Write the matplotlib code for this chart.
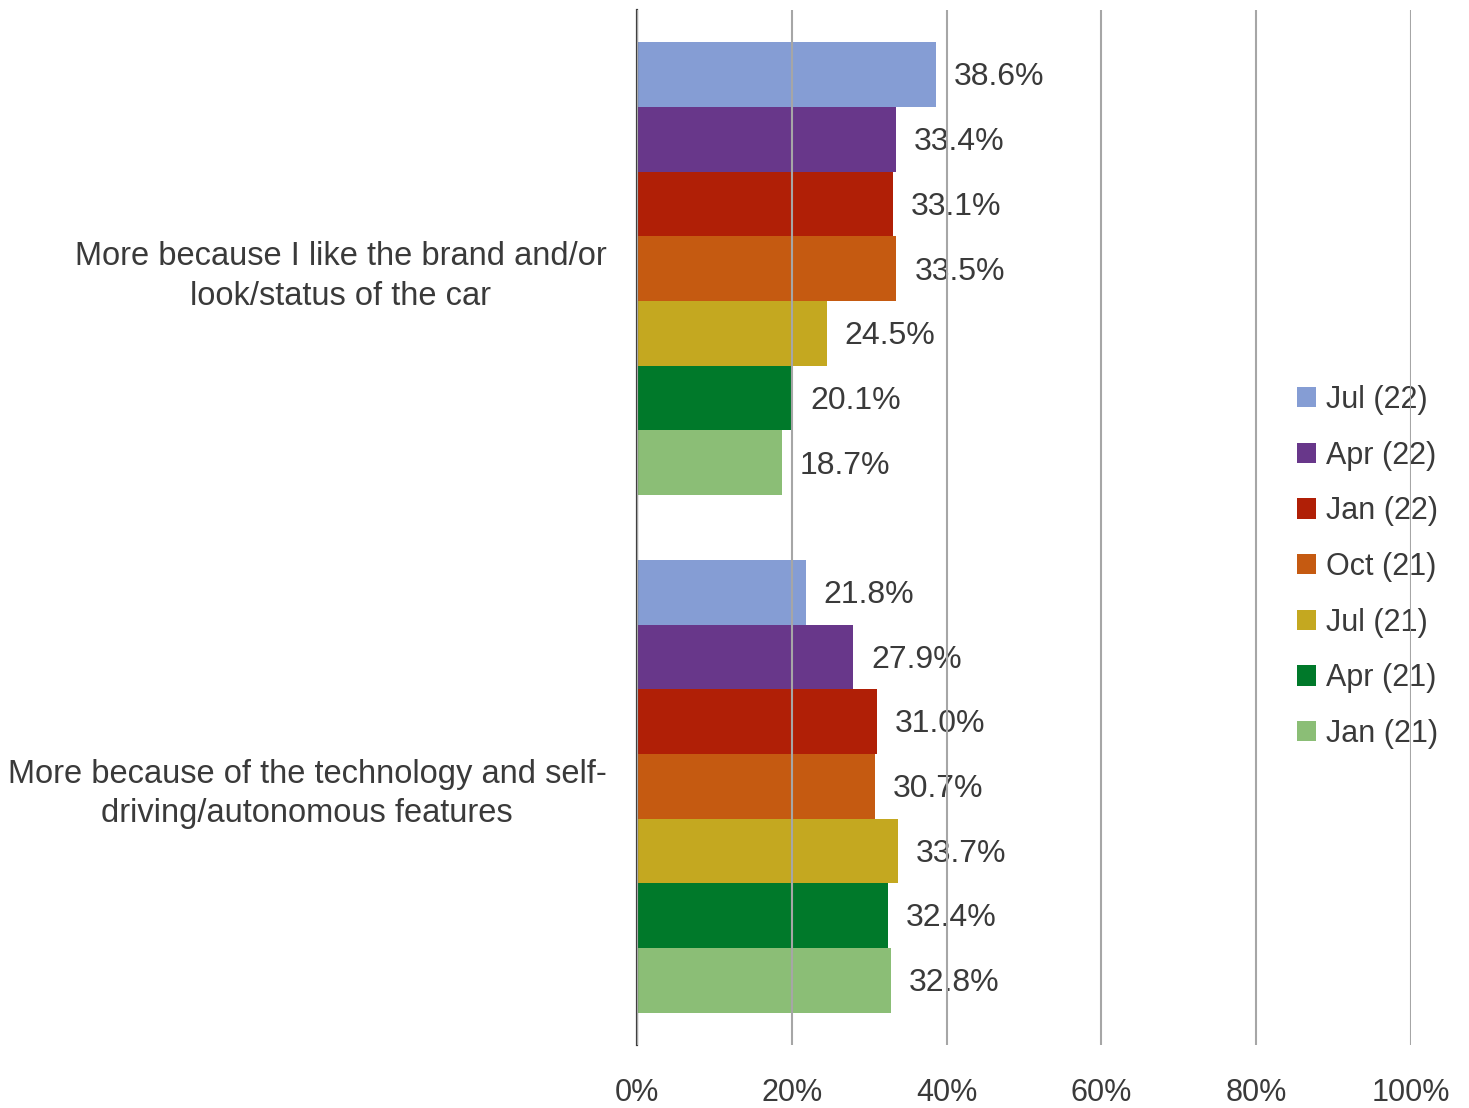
import numpy as np
import matplotlib.pyplot as plt
from matplotlib.ticker import PercentFormatter

# chart data
categories = ["More because I like the brand and/or\nlook/status of the car",
              "More because of the technology and self-\ndriving/autonomous features"]
waves = ["Jul (22)", "Apr (22)", "Jan (22)", "Oct (21)", "Jul (21)", "Apr (21)", "Jan (21)"]
brand_look = [38.6, 33.4, 33.1, 33.5, 24.5, 20.1, 18.7]
tech_features = [21.8, 27.9, 31.0, 30.7, 33.7, 32.4, 32.8]
colors = ["#859DD4", "#68378A", "#B01F06", "#C55A11", "#C4A820", "#00792A", "#8BBE76"]

plt.rcParams['font.family'] = ['Liberation Sans', 'DejaVu Sans']
text_color = '#3a3a3a'

fig = plt.figure(figsize=(14.69, 11.08), dpi=100)
ax = fig.add_axes([637 / 1469, 1 - 1045 / 1108, (1411 - 637) / 1469, 1035 / 1108])

y = np.arange(len(categories))
bar_h = 0.125
for i, wave in enumerate(waves):
    vals = [brand_look[i], tech_features[i]]
    pos = y - 3 * bar_h + i * bar_h
    bars = ax.barh(pos, vals, height=bar_h, color=colors[i], label=wave, zorder=1)
    for b, v in zip(bars, vals):
        ax.annotate(f'{v:.1f}%', (b.get_width(), b.get_y() + bar_h / 2),
                    xytext=(13, -2), textcoords='offset points',
                    va='center', ha='left', fontsize=23, color=text_color, zorder=2)

ax.set_xlim(0, 100)
ax.set_ylim(1.5, -0.5)
ax.xaxis.set_major_formatter(PercentFormatter(decimals=0))
ax.set_xticks(np.arange(0, 101, 20))
ax.set_yticks(y)
ax.set_yticklabels(categories, multialignment='center')
ax.grid(axis='x', color='#a6a6a6', linewidth=1.5)
ax.set_axisbelow(False)

for s in ['top', 'right', 'bottom']:
    ax.spines[s].set_visible(False)
ax.spines['left'].set_color('#404040')
ax.spines['left'].set_linewidth(1.6)

ax.tick_params(axis='x', length=0, pad=24, labelsize=22, labelcolor=text_color)
ax.tick_params(axis='y', length=0, pad=22, labelsize=23.5, labelcolor=text_color)
for lbl in ax.get_yticklabels():
    lbl.set_linespacing(1.35)

leg = ax.legend(loc='center left', bbox_to_anchor=((1269 - 637) / 774, 1 - (567 - 10) / 1035),
                frameon=False, fontsize=22, handlelength=0.65, handleheight=0.65,
                handletextpad=0.3, labelspacing=0.84, labelcolor=text_color)
leg.set_zorder(1)

fig.savefig('out.png', dpi=100)
